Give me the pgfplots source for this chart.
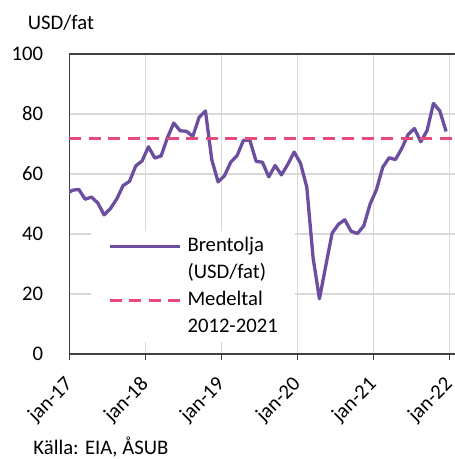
\documentclass[border=0pt]{standalone}
\usepackage{fontspec}
\setmainfont{Carlito}
\usepackage{pgfplots}
\pgfplotsset{compat=1.18}
\definecolor{brent}{RGB}{107,78,160}
\definecolor{mean}{RGB}{232,74,124}
\definecolor{gridc}{RGB}{217,217,217}
\definecolor{axc}{RGB}{64,64,64}
\newcommand{\fs}{\fontsize{20.7bp}{24bp}\selectfont}
\begin{document}
\begin{tikzpicture}
\begin{axis}[
  name=ax,
  scale only axis,
  width=386.3bp, height=300bp,
  xmin=0, xmax=61, ymin=0, ymax=100,
  axis x line*=bottom, axis y line*=left,
  axis line style={axc, line width=1.2bp, -},
  xtick={0,12,24,36,48,60},
  xticklabels={jan-17,jan-18,jan-19,jan-20,jan-21,jan-22},
  ytick={0,20,40,60,80},
  extra y ticks={100},
  extra y tick style={ymajorgrids=true, major grid style={axc, line width=1.2bp}},
  xmajorgrids, ymajorgrids,
  major grid style={gridc, line width=1.3bp},
  tick align=outside,
  major tick length=6bp,
  xtick style={axc, line width=1.2bp},
  ytick style={draw=none},
  /pgf/number format/assume math mode=true,
  tick label style={font=\fs},
  yticklabel style={anchor=east, inner sep=0pt, xshift=-20bp},
  xticklabel style={xshift=-6bp, yshift=-15bp, rotate=45, anchor=north east, inner sep=0pt},
  legend cell align=left,
  legend style={draw=none, fill=white, font=\fs, at={(axis cs:3.43,3.77)}, anchor=south west,
    inner xsep=17bp, inner ysep=5bp, row sep=7bp, column sep=0pt,
    nodes={text height=15bp, text depth=5bp, inner sep=0pt, inner xsep=0pt}},
  legend image code/.code={\draw[#1] (0bp,0bp) -- (70bp,0bp);},
  legend columns=1,
]
\addplot[brent, line width=3.3bp, line join=round] coordinates {
(-0.5,53.29) (0.5,54.58) (1.5,54.87) (2.5,51.59) (3.5,52.31) (4.5,50.33) (5.5,46.37)
(6.5,48.48) (7.5,51.70) (8.5,56.15) (9.5,57.51) (10.5,62.71) (11.5,64.37)
(12.5,69.08) (13.5,65.32) (14.5,66.02) (15.5,72.11) (16.5,76.98) (17.5,74.41)
(18.5,74.25) (19.5,72.53) (20.5,78.89) (21.5,81.03) (22.5,64.75) (23.5,57.36)
(24.5,59.41) (25.5,63.96) (26.5,66.14) (27.5,71.23) (28.5,71.32) (29.5,64.22)
(30.5,63.92) (31.5,59.04) (32.5,62.83) (33.5,59.71) (34.5,63.21) (35.5,67.31)
(36.5,63.65) (37.5,55.66) (38.5,32.01) (39.5,18.38) (40.5,29.38) (41.5,40.27)
(42.5,43.24) (43.5,44.74) (44.5,40.91) (45.5,40.19) (46.5,42.69) (47.5,49.99)
(48.5,54.77) (49.5,62.28) (50.5,65.41) (51.5,64.81) (52.5,68.53) (53.5,73.16)
(54.5,75.17) (55.5,70.75) (56.5,74.49) (57.5,83.54) (58.5,81.05) (59.5,74.17)
};
\addlegendentry{\hspace{6bp}Brentolja}
\addlegendimage{empty legend}
\addlegendentry{\hspace{6bp}(USD/fat)}
\addplot[mean, line width=3bp, dash pattern=on 12bp off 7.5bp] coordinates {(0,71.9) (61,71.9)};
\addlegendentry{\hspace{6bp}Medeltal}
\addlegendimage{empty legend}
\addlegendentry{\hspace{6bp}2012-2021}
\end{axis}
\node[anchor=base west, inner sep=0pt, font=\fs] at ([shift={(-41.6bp,324.7bp)}]ax.south west) {USD/fat};
\node[anchor=base west, inner sep=0pt, font=\fs] at ([shift={(-36bp,-100bp)}]ax.south west) {Källa: EIA, ÅSUB};
\pgfresetboundingbox
\path ([shift={(-69.3bp,-105bp)}]ax.south west) rectangle ([shift={(385.7bp,354bp)}]ax.south west);
\end{tikzpicture}
\end{document}
